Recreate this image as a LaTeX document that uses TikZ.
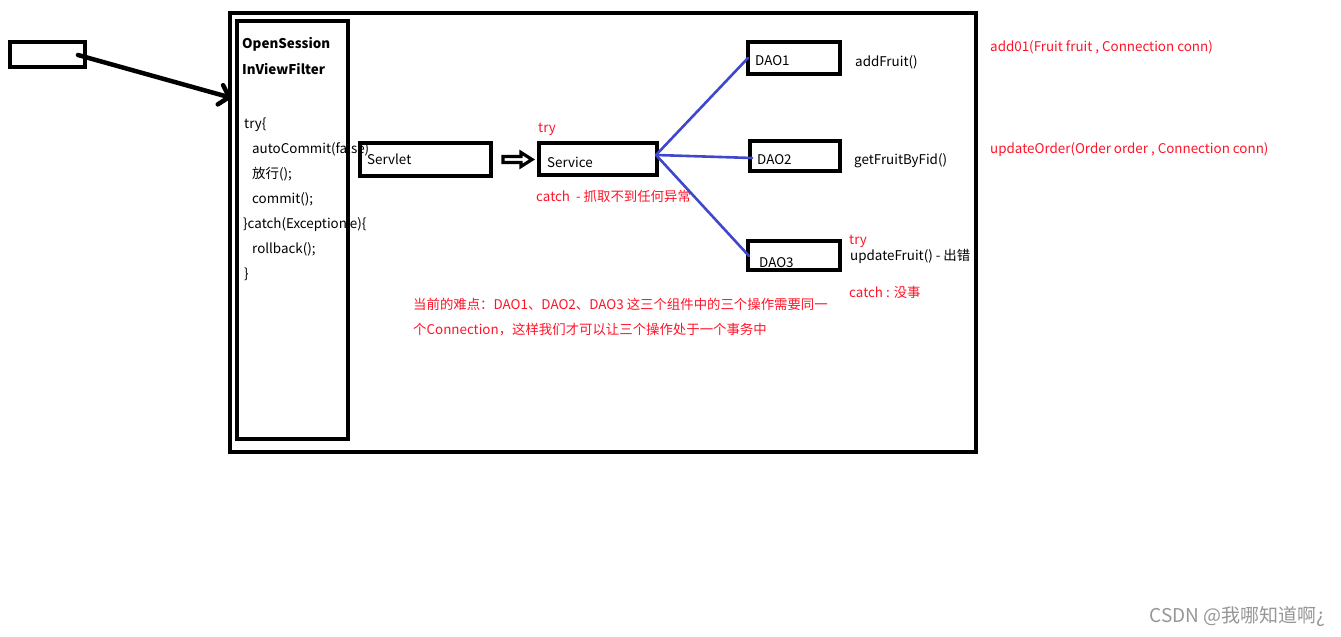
\documentclass[tikz,border=0pt]{standalone}
\usepackage{fontspec}
\setmainfont{Noto Sans CJK SC}
\usetikzlibrary{arrows.meta,calc}
\definecolor{paintblue}{RGB}{63,72,204}
\definecolor{paintred}{RGB}{255,20,40}
\definecolor{wm}{RGB}{150,150,150}
\tikzset{
  box/.style={draw, line width=4pt, outer sep=0pt, inner sep=0pt},
  txt/.style={anchor=west, inner sep=0pt, yshift=-1.5pt, font=\fontsize{13.4}{15}\selectfont},
  rtxt/.style={txt, text=paintred},
  conn/.style={paintblue, line width=2.6pt, line cap=round},
}
\begin{document}
\begin{tikzpicture}[x=1pt,y=-1pt]
\useasboundingbox (0,0) rectangle (1341,637);
% outer frame
\node[box, minimum width=746pt, minimum height=439pt] (frame) at (603,232.5) {};
% client box
\node[box, minimum width=75pt, minimum height=25pt] (client) at (47.5,54.5) {};
% filter code text (drawn before the box so the border covers it)
\node[txt, font=\fontsize{13.4}{15}\selectfont\bfseries] (f1) at (242,43) {OpenSession};
\node[txt, font=\fontsize{13.4}{15}\selectfont\bfseries] (f2) at (242,68) {InViewFilter};
\node[txt] (c1) at (244,123) {try\{};
\node[txt] (c2) at (252,148) {autoCommit(false)};
\node[txt] (c3) at (252,173) {放行();};
\node[txt] (c4) at (252,198) {commit();};
\node[txt] (c5) at (243,223) {\}catch(Exception e)\{};
\node[txt] (c6) at (252,248) {rollback();};
\node[txt] (c7) at (244,273) {\}};
\node[box, minimum width=111pt, minimum height=418pt] (filter) at (292.5,230) {};
% arrow client -> filter
\coordinate (cs) at (78,55);
\coordinate (fe) at (232,98);
\draw[line width=4.5pt, line cap=round, -{Straight Barb[length=9pt,width=20pt,line cap=round]}] (cs) -- (fe);
% servlet / service
\node[box, minimum width=131pt, minimum height=33pt] (servlet) at (425.5,159.5) {};
\node[txt] (servlett) at (367,158) {Servlet};
\node[box, minimum width=118pt, minimum height=32pt] (service) at (598,159) {};
\node[txt] (servicet) at (547,161) {Service};
\node[rtxt] (try1) at (538,128) {try};
\node[rtxt] (catch1) at (536,195) {catch\ \ - 抓取不到任何异常};
% hollow arrow servlet -> service
\draw[line width=3.2pt, fill=white, line join=miter]
  ($(servlet.east)+(12,-3)$) -- ++(18,0) -- ++(0,-4) -- ++(11,7) -- ++(-11,7) -- ++(0,-4) -- ++(-18,0) -- cycle;
% DAOs
\node[box, minimum width=92pt, minimum height=32pt] (dao1) at (794,58) {};
\node[txt] (dao1t) at (755,59) {DAO1};
\node[box, minimum width=90pt, minimum height=30pt] (dao2) at (795,156) {};
\node[txt] (dao2t) at (757,158) {DAO2};
\node[box, minimum width=92pt, minimum height=29pt] (dao3) at (794,255.5) {};
\node[txt] (dao3t) at (759,261) {DAO3};
% connectors
\coordinate (sv) at (656,155);
\coordinate (d1) at (748,58);
\coordinate (d2) at (752,158);
\coordinate (d3) at (749,256);
\draw[conn] (sv) -- (d1);
\draw[conn] (sv) -- (d2);
\draw[conn] (sv) -- (d3);
% method labels
\node[txt] (m1) at (855,61) {addFruit()};
\node[txt] (m2) at (854,159) {getFruitByFid()};
\node[rtxt] (try2) at (849,240) {try};
\node[txt] (m3) at (850,255) {updateFruit() - 出错};
\node[rtxt] (catch2) at (849,291) {catch : 没事};
% notes
\node[rtxt] (n1) at (413,303) {当前的难点：DAO1、DAO2、DAO3 这三个组件中的三个操作需要同一};
\node[rtxt] (n2) at (413,328) {个Connection，这样我们才可以让三个操作处于一个事务中};
\node[rtxt] (r1) at (990,46) {add01(Fruit fruit , Connection conn)};
\node[rtxt] (r2) at (990,148) {updateOrder(Order order , Connection conn)};
% watermark
\node[anchor=east, inner sep=0pt, text=wm, font=\fontsize{19}{21}\selectfont] (wmk) at (1326,617) {CSDN @我哪知道啊¿};
\end{tikzpicture}
\end{document}
